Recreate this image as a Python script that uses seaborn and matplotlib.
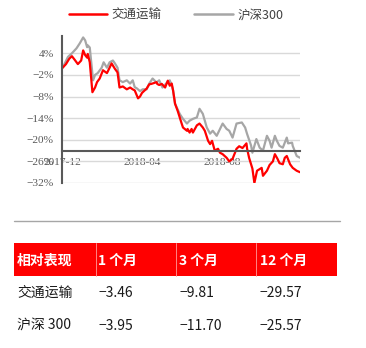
import matplotlib
matplotlib.use("Agg")
import matplotlib.pyplot as plt
from matplotlib.patches import Rectangle
from matplotlib.lines import Line2D
import pandas as pd
import seaborn as sns

# ---------------- data ----------------
series_names = ["交通运输", "沪深300"]

jt_dates = ["2017-12-02", "2017-12-07", "2017-12-12", "2017-12-16", "2017-12-21", "2017-12-25",
            "2017-12-30", "2018-01-02", "2018-01-05", "2018-01-08", "2018-01-09", "2018-01-12",
            "2018-01-16", "2018-01-20", "2018-01-23", "2018-01-27", "2018-02-01", "2018-02-07",
            "2018-02-11", "2018-02-14", "2018-02-19", "2018-02-23", "2018-02-26", "2018-03-03",
            "2018-03-09", "2018-03-14", "2018-03-18", "2018-03-21", "2018-03-26", "2018-03-29",
            "2018-04-01", "2018-04-08", "2018-04-12", "2018-04-15", "2018-04-20", "2018-04-23",
            "2018-04-24", "2018-04-27", "2018-05-01", "2018-05-06", "2018-05-10", "2018-05-13",
            "2018-05-16", "2018-05-18", "2018-05-21", "2018-05-25", "2018-05-31", "2018-06-02",
            "2018-06-08", "2018-06-09", "2018-06-12", "2018-06-15", "2018-06-17", "2018-06-23",
            "2018-06-27", "2018-07-02", "2018-07-05", "2018-07-10", "2018-07-13", "2018-07-16",
            "2018-07-20", "2018-07-25", "2018-07-28", "2018-08-01", "2018-08-07", "2018-08-11",
            "2018-08-16", "2018-08-22", "2018-08-26", "2018-08-31", "2018-09-06", "2018-09-07",
            "2018-09-10", "2018-09-15", "2018-09-18", "2018-09-22", "2018-09-29", "2018-10-01",
            "2018-10-07", "2018-10-11", "2018-10-16", "2018-10-19", "2018-10-23", "2018-10-26",
            "2018-10-31", "2018-11-03", "2018-11-06", "2018-11-11", "2018-11-15", "2018-11-21",
            "2018-11-26"]
jt_values = [0.0, 1.0, 2.5, 3.2, 2.0, 1.0,
             2.0, 4.8, 3.5, 2.8, 3.8, 1.5,
             -6.8, -5.5, -4.0, -3.0, -0.7, -1.5,
             0.0, 1.2, -0.3, -1.3, -5.5, -5.2,
             -6.0, -5.5, -6.0, -6.3, -8.5, -8.0,
             -7.0, -5.8, -4.6, -4.5, -4.2, -4.0,
             -4.5, -4.8, -4.5, -5.5, -3.6, -5.0,
             -4.4, -6.3, -10.0, -12.0, -15.5, -16.6,
             -17.5, -17.0, -18.0, -17.0, -18.0, -16.0,
             -15.5, -16.6, -17.5, -20.3, -21.2, -20.3,
             -23.0, -22.5, -23.6, -24.0, -25.0, -26.0,
             -25.3, -22.5, -21.8, -22.3, -21.0, -22.5,
             -25.0, -28.0, -32.0, -28.6, -27.8, -30.0,
             -28.6, -27.0, -26.0, -24.0, -25.3, -26.5,
             -26.8, -25.0, -24.5, -26.8, -27.8, -28.6,
             -29.0]

hs_dates = ["2017-12-02", "2017-12-10", "2017-12-16", "2017-12-23", "2017-12-28", "2018-01-02",
            "2018-01-05", "2018-01-08", "2018-01-09", "2018-01-12", "2018-01-17", "2018-01-20",
            "2018-01-24", "2018-01-30", "2018-02-02", "2018-02-07", "2018-02-11", "2018-02-16",
            "2018-02-19", "2018-02-23", "2018-02-26", "2018-03-03", "2018-03-09", "2018-03-14",
            "2018-03-18", "2018-03-21", "2018-03-24", "2018-03-29", "2018-04-02", "2018-04-08",
            "2018-04-12", "2018-04-17", "2018-04-23", "2018-04-27", "2018-05-02", "2018-05-09",
            "2018-05-13", "2018-05-16", "2018-05-18", "2018-05-21", "2018-05-28", "2018-06-02",
            "2018-06-08", "2018-06-12", "2018-06-17", "2018-06-23", "2018-06-27", "2018-07-02",
            "2018-07-08", "2018-07-13", "2018-07-17", "2018-07-23", "2018-07-28", "2018-08-01",
            "2018-08-07", "2018-08-11", "2018-08-16", "2018-08-22", "2018-08-30", "2018-09-04",
            "2018-09-07", "2018-09-13", "2018-09-15", "2018-09-21", "2018-09-26", "2018-10-01",
            "2018-10-07", "2018-10-11", "2018-10-14", "2018-10-19", "2018-10-22", "2018-10-26",
            "2018-10-31", "2018-11-06", "2018-11-08", "2018-11-14", "2018-11-15", "2018-11-21",
            "2018-11-26"]
hs_values = [0.0, 3.0, 4.0, 5.4, 6.8, 8.4,
             7.6, 5.7, 6.2, 5.6, -3.5, -2.0,
             -1.5, 0.0, 1.5, 0.0, 1.5, 2.0,
             1.2, 0.0, -3.5, -4.0, -3.5, -4.4,
             -3.5, -5.4, -5.7, -6.5, -6.0, -6.0,
             -4.4, -3.0, -4.1, -3.5, -5.5, -4.1,
             -3.5, -4.9, -6.3, -10.0, -12.8, -14.2,
             -15.5, -14.7, -14.2, -13.8, -11.4, -12.8,
             -16.6, -18.3, -17.5, -18.9, -17.0, -15.5,
             -17.0, -17.5, -19.4, -15.5, -15.2, -16.6,
             -18.4, -21.6, -23.6, -19.8, -22.2, -23.0,
             -18.9, -20.3, -22.2, -18.9, -20.3, -21.7,
             -22.2, -19.4, -21.0, -20.8, -21.7, -24.5,
             -25.0]

y_ticks = [4, -2, -8, -14, -20, -26, -32]
y_tick_labels = ["4%", "\u22122%", "\u22128%", "\u221214%", "\u221220%", "\u221226%", "\u221232%"]
x_ticks = ["2017-12-01", "2018-04-01", "2018-08-01"]
x_tick_labels = ["2017-12", "2018-04", "2018-08"]

table_header = ["相对表现", "1 个月", "3 个月", "12 个月"]
table_rows = ["交通运输", "沪深 300"]
table_values = [["\u22123.46", "\u22129.81", "\u221229.57"],
                ["\u22123.95", "\u221211.70", "\u221225.57"]]

# ---------------- style ----------------
sns.set_theme(style="white")
plt.rcParams["font.family"] = ["Noto Sans CJK SC", "DejaVu Sans"]

RED = "#ff0000"
GRAY = "#a6a6a6"
AXC = "#595959"

W, H = 366, 348
fig = plt.figure(figsize=(W / 100, H / 100), dpi=100)
fig.patch.set_facecolor("white")

ax = fig.add_axes([62 / W, 1 - 183 / H, 238 / W, 147 / H])

df = pd.concat([
    pd.DataFrame({"date": pd.to_datetime(jt_dates), "value": jt_values, "series": series_names[0]}),
    pd.DataFrame({"date": pd.to_datetime(hs_dates), "value": hs_values, "series": series_names[1]}),
])
sns.lineplot(data=df[df.series == series_names[1]], x="date", y="value", color=GRAY,
             lw=1.6, ax=ax, legend=False)
sns.lineplot(data=df[df.series == series_names[0]], x="date", y="value", color=RED,
             lw=1.6, ax=ax, legend=False)

ax.set_xlim(pd.Timestamp("2017-12-01"), pd.Timestamp("2018-11-26"))
ax.set_ylim(-32, 8.8)
ax.set_xlabel("")
ax.set_ylabel("")

ax.set_yticks(y_ticks)
ax.set_yticklabels(y_tick_labels)
ax.yaxis.grid(True, color="#d9d9d9", lw=1)
ax.xaxis.grid(False)
ax.set_axisbelow(True)

ax.set_xticks(pd.to_datetime(x_ticks))
ax.set_xticklabels(x_tick_labels)

for s in ["top", "right"]:
    ax.spines[s].set_visible(False)
ax.spines["left"].set_color(AXC)
ax.spines["left"].set_linewidth(1.5)
ax.spines["bottom"].set_position(("data", -23))
ax.spines["bottom"].set_color(AXC)
ax.spines["bottom"].set_linewidth(1.5)
ax.spines["bottom"].set_zorder(5)

ax.tick_params(axis="y", length=0, pad=6, labelsize=8.2, labelcolor=AXC)
ax.tick_params(axis="x", length=4, width=1, color=AXC, direction="out", pad=1,
               labelsize=8.2, labelcolor=AXC)
for lab in ax.get_yticklabels() + ax.get_xticklabels():
    lab.set_family(["Liberation Serif", "DejaVu Serif"])

# legend
handles = [Line2D([], [], color=RED, lw=1.8), Line2D([], [], color=GRAY, lw=1.8)]
fig.legend(handles, series_names, loc="center", bbox_to_anchor=(176 / W, 1 - 15 / H),
           ncol=2, frameon=False, fontsize=9, handlelength=3.1, handletextpad=0.35,
           columnspacing=2.6, labelcolor="#404040")

# separator line
fig.add_artist(Line2D([14 / W, 340 / W], [1 - 221 / H, 1 - 221 / H],
                      transform=fig.transFigure, color="#a6a6a6", lw=1))

# table header
fig.add_artist(Rectangle((14 / W, 1 - 276 / H), (337 - 14) / W, 33 / H,
                         transform=fig.transFigure, facecolor=RED, edgecolor="none"))
for xs in [96, 176, 256]:
    fig.add_artist(Line2D([xs / W, xs / W], [1 - 276 / H, 1 - 243 / H],
                          transform=fig.transFigure, color="#ff9a9a", lw=0.6))

col_x = [17, 98, 179, 260]
for cx, txt in zip(col_x, table_header):
    fig.text(cx / W, 1 - 261 / H, txt, color="white", fontsize=10, fontweight="bold",
             ha="left", va="center")

row_y = [293, 326]
for ry, name, vals in zip(row_y, table_rows, table_values):
    fig.text(col_x[0] / W, 1 - ry / H, name, color="#1a1a1a", fontsize=10,
             ha="left", va="center")
    for cx, v in zip(col_x[1:], vals):
        fig.text(cx / W, 1 - ry / H, v, color="#1a1a1a", fontsize=10,
                 ha="left", va="center")

fig.savefig("out.png", dpi=100, facecolor="white")
